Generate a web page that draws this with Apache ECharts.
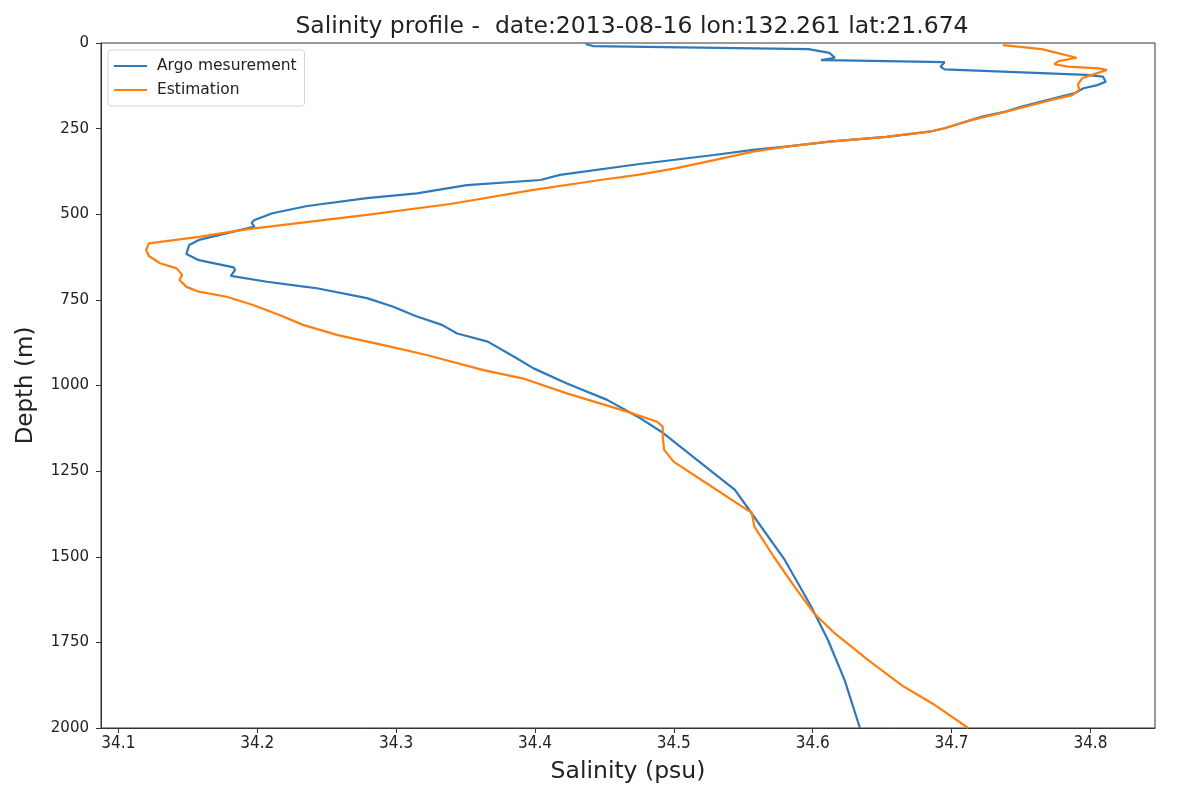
<!DOCTYPE html>
<html>
<head>
<meta charset="utf-8">
<script src="https://cdn.jsdelivr.net/npm/echarts@6/dist/echarts.min.js"></script>
<style>
html,body{margin:0;padding:0;background:#fff;}
#chart{width:1196px;height:801px;}
</style>
</head>
<body>
<div id="chart"></div>
<script>
// Salinity (psu), depth (m) pairs
const argoSalinity = [34.4365,34.442,34.597,34.612,34.616,34.606,34.621,34.695,34.692,34.695,34.797,34.809,34.811,34.805,34.795,34.789,34.778,34.750,34.739,34.722,34.695,34.684,34.653,34.612,34.584,34.557,34.529,34.474,34.418,34.404,34.351,34.315,34.279,34.236,34.211,34.198,34.196,34.198,34.158,34.151,34.149,34.158,34.183,34.184,34.181,34.207,34.231,34.243,34.279,34.298,34.314,34.333,34.344,34.366,34.385,34.399,34.423,34.452,34.474,34.491,34.526,34.544,34.556,34.580,34.599,34.611,34.623,34.634];
const argoDepth = [3,9,18,29,43,50,51,56,69,77,93,98,113,123,132,146,157,186,200,215,249,259,274,288,301,312,327,354,385,400,415,439,453,476,497,517,525,536,575,590,616,634,655,663,680,697,710,716,745,770,797,823,848,872,916,950,994,1042,1091,1135,1247,1305,1373,1510,1646,1743,1860,2000];

const estSalinity = [34.737,34.765,34.770,34.790,34.777,34.774,34.784,34.806,34.812,34.801,34.794,34.791,34.792,34.787,34.772,34.758,34.736,34.714,34.695,34.684,34.653,34.612,34.584,34.557,34.529,34.501,34.474,34.447,34.399,34.339,34.279,34.231,34.192,34.158,34.122,34.120,34.122,34.130,34.142,34.146,34.144,34.149,34.158,34.178,34.197,34.216,34.233,34.258,34.291,34.322,34.363,34.391,34.423,34.467,34.488,34.492,34.492,34.493,34.500,34.520,34.553,34.556,34.558,34.572,34.587,34.601,34.616,34.640,34.664,34.688,34.712];
const estDepth = [6,18,23,43,53,62,69,74,79,93,103,121,137,152,166,181,204,225,249,259,274,288,301,317,342,366,385,400,429,470,502,525,544,566,585,604,622,643,658,677,692,712,726,741,765,794,823,853,882,911,955,979,1023,1077,1106,1120,1150,1188,1223,1276,1364,1369,1412,1500,1588,1665,1724,1802,1875,1933,2000];

const xTicks = [34.1,34.2,34.3,34.4,34.5,34.6,34.7,34.8];
const yTicks = [0,250,500,750,1000,1250,1500,1750,2000];

const argoData = argoSalinity.map((s,i)=>[s, argoDepth[i]]);
const estData = estSalinity.map((s,i)=>[s, estDepth[i]]);

const chart = echarts.init(document.getElementById('chart'), null, {renderer:'canvas'});
chart.setOption({
  animation:false,
  backgroundColor:'#ffffff',
  title:{
    text:'Salinity profile -  date:2013-08-16 lon:132.261 lat:21.674',
    left:627, top:10, textAlign:'center',
    textStyle:{fontFamily:'DejaVu Sans', fontSize:23.5, fontWeight:'normal', color:'#222'}
  },
  legend:{
    orient:'vertical', left:108, top:50,
    data:['Argo mesurement','Estimation'],
    icon:'rect', itemWidth:33, itemHeight:2, itemGap:8,
    padding:[8,8,8,6],
    borderColor:'#d5d5d5', borderWidth:1, borderRadius:3,
    textStyle:{fontFamily:'DejaVu Sans', fontSize:15.5, color:'#222', padding:[0,0,0,5]}
  },
  grid:{left:101, right:41, top:43, bottom:73, show:true, borderColor:'#333', borderWidth:1, containLabel:false},
  xAxis:{
    type:'value', min:34.0875, max:34.8465,
    name:'Salinity (psu)', nameLocation:'middle', nameGap:32,
    nameTextStyle:{fontFamily:'DejaVu Sans', fontSize:23.5, color:'#222'},
    axisLine:{show:true, onZero:false, lineStyle:{color:'#333'}},
    axisTick:{show:true, inside:false, length:5, customValues:xTicks, lineStyle:{color:'#333', width:1}},
    axisLabel:{customValues:xTicks, margin:7, fontFamily:'Liberation Sans Narrow, DejaVu Sans Condensed, sans-serif', fontSize:17, color:'#222', formatter:v=>v.toFixed(1)},
    splitLine:{show:false}
  },
  yAxis:{
    type:'value', inverse:true, min:0, max:2000, interval:250,
    name:'Depth (m)', nameLocation:'middle', nameGap:63,
    nameTextStyle:{fontFamily:'DejaVu Sans', fontSize:23, color:'#222'},
    axisLine:{show:true, onZero:false, lineStyle:{color:'#333'}},
    axisTick:{show:true, inside:false, length:5, lineStyle:{color:'#333', width:1}},
    axisLabel:{margin:12, fontFamily:'DejaVu Sans', fontSize:15, color:'#222', formatter:v=>String(v)},
    splitLine:{show:false}
  },
  series:[
    {name:'Argo mesurement', type:'line', data:argoData, showSymbol:false, symbol:'none',
     lineStyle:{color:'#2f78b9', width:2.2}, itemStyle:{color:'#2f78b9'}, smooth:false, z:2},
    {name:'Estimation', type:'line', data:estData, showSymbol:false, symbol:'none',
     lineStyle:{color:'#ff7f0e', width:2.2}, itemStyle:{color:'#ff7f0e'}, smooth:false, z:3}
  ]
});
</script>
</body>
</html>
